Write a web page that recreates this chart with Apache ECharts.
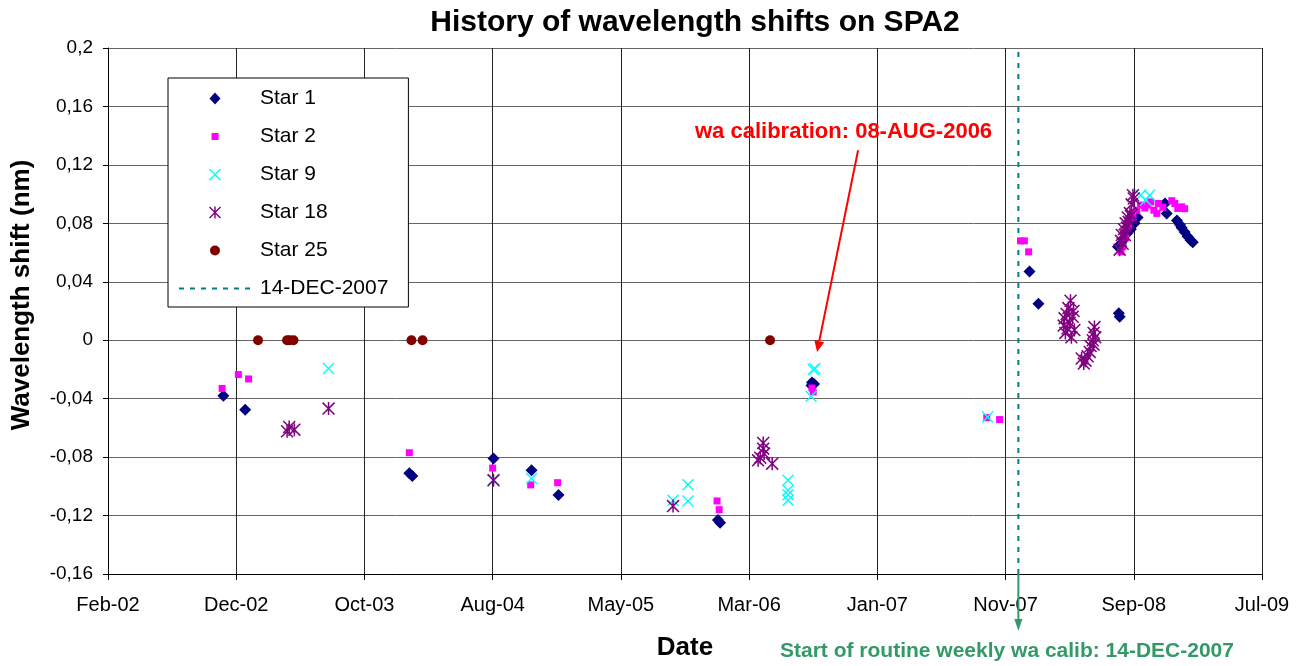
<!DOCTYPE html>
<html>
<head>
<meta charset="utf-8">
<title>History of wavelength shifts on SPA2</title>
<script src="https://cdn.jsdelivr.net/npm/echarts@6/dist/echarts.min.js"></script>
<style>
  html, body { margin: 0; padding: 0; background: #fff; }
  #chart { width: 1305px; height: 666px; }
</style>
</head>
<body>
<div id="chart"></div>
<script>
// x axis counts days from 13-Feb-2002, ticks every 300 days like the Excel date axis
var BASE = Date.UTC(2002, 1, 13);
var DAY = 86400000;
var MONTHS = ['Jan', 'Feb', 'Mar', 'Apr', 'May', 'Jun', 'Jul', 'Aug', 'Sep', 'Oct', 'Nov', 'Dec'];
var FONT = '"Liberation Sans", Arial, sans-serif';

var xMax = 2700;
var xStep = 300;
var yTicks = [-0.16, -0.12, -0.08, -0.04, 0, 0.04, 0.08, 0.12, 0.16, 0.2];

var calibDate = '2007-12-14';

var star1Dates = ['2002-11-10', '2002-12-31', '2004-01-19', '2004-01-26', '2004-08-03', '2004-10-31', '2005-01-02',
  '2006-01-10', '2006-01-15', '2006-08-17', '2006-08-18', '2006-08-23', '2008-01-09', '2008-01-30', '2008-08-05', '2008-08-07',
  '2008-08-03', '2008-08-10', '2008-08-17', '2008-08-24', '2008-09-02', '2008-09-11', '2008-09-18', '2008-11-21', '2008-11-25',
  '2008-12-19', '2008-12-26', '2008-12-30', '2009-01-06', '2009-01-13', '2009-01-20', '2009-01-25'];
var star1Shift = [-0.038, -0.0475, -0.091, -0.093, -0.081, -0.089, -0.106,
  -0.123, -0.125, -0.031, -0.029, -0.030, 0.047, 0.025, 0.0185, 0.016,
  0.064, 0.066, 0.069, 0.073, 0.076, 0.080, 0.084, 0.0936, 0.0868,
  0.082, 0.079, 0.077, 0.074, 0.071, 0.0685, 0.067];

var star2Dates = ['2002-11-07', '2002-12-15', '2003-01-08', '2004-01-19', '2004-08-01', '2004-10-29', '2004-12-31',
  '2006-01-08', '2006-01-13', '2006-08-18', '2006-08-21', '2007-10-01', '2007-10-31', '2007-12-19', '2007-12-28', '2008-01-07',
  '2008-08-10', '2008-08-14', '2008-08-21', '2008-08-28', '2008-09-07', '2008-09-16', '2008-09-25', '2008-10-05', '2008-10-12',
  '2008-10-19', '2008-10-26', '2008-11-02', '2008-11-06', '2008-11-16', '2008-12-07', '2008-12-14', '2008-12-21', '2008-12-30', '2009-01-06'];
var star2Shift = [-0.033, -0.0235, -0.0265, -0.077, -0.0875, -0.099, -0.0975,
  -0.110, -0.116, -0.0327, -0.0354, -0.053, -0.0543, 0.068, 0.068, 0.0605,
  0.0605, 0.064, 0.070, 0.078, 0.084, 0.089, 0.0925, 0.0905, 0.0925,
  0.0947, 0.089, 0.0868, 0.0936, 0.091, 0.0955, 0.0936, 0.0902, 0.0913, 0.090];

var star9Dates = ['2003-07-14', '2004-08-03', '2004-10-31', '2005-09-27', '2005-11-01', '2005-11-01',
  '2006-06-23', '2006-06-23', '2006-06-23', '2006-06-23', '2006-08-16', '2006-08-21', '2006-08-25',
  '2007-10-03', '2008-09-25', '2008-10-07', '2008-10-16'];
var star9Shift = [-0.0194, -0.0954, -0.0947, -0.1096, -0.0989, -0.110,
  -0.0959, -0.1027, -0.1057, -0.1096, -0.0384, -0.0201, -0.0195,
  -0.0525, 0.0993, 0.0959, 0.0993];

var star18Dates = ['2003-04-08', '2003-04-13', '2003-04-25', '2003-07-14', '2004-08-03', '2005-09-27',
  '2006-04-14', '2006-04-19', '2006-04-26', '2006-04-26', '2006-04-28', '2006-05-17',
  '2008-03-29', '2008-03-31', '2008-04-02', '2008-04-05', '2008-04-07', '2008-04-09',
  '2008-04-12', '2008-04-14', '2008-04-16', '2008-04-19', '2008-04-21', '2008-04-23',
  '2008-05-10', '2008-05-15', '2008-05-19', '2008-05-24', '2008-05-29', '2008-05-31',
  '2008-06-05', '2008-06-07', '2008-06-07', '2008-06-09', '2008-06-11',
  '2008-08-07', '2008-08-10', '2008-08-12', '2008-08-14', '2008-08-17', '2008-08-19', '2008-08-21',
  '2008-08-24', '2008-08-26', '2008-08-28', '2008-08-31', '2008-09-02', '2008-09-04', '2008-09-07', '2008-09-09'];
var star18Shift = [-0.0623, -0.0594, -0.0612, -0.0468, -0.0959, -0.1135,
  -0.0822, -0.0804, -0.0703, -0.0742, -0.0776, -0.0845,
  0.010, 0.015, 0.005, 0.018, 0.008, 0.022,
  0.012, 0.027, 0.002, 0.016, 0.020, 0.007,
  -0.0125, -0.016, -0.014, -0.011, -0.008, -0.004,
  0.000, -0.003, 0.005, 0.009, 0.002,
  0.062, 0.068, 0.072, 0.066, 0.076, 0.072, 0.080,
  0.077, 0.084, 0.081, 0.087, 0.085, 0.093, 0.0993, 0.097];

var star25Dates = ['2003-01-30', '2003-04-08', '2003-04-14', '2003-04-23', '2004-01-24', '2004-02-19', '2006-05-12'];
var star25Shift = [0, 0, 0, 0, 0, 0, 0];

function toDay(s) {
  return (Date.parse(s) - BASE) / DAY;
}
function pairs(dates, values) {
  return dates.map(function (d, i) { return [toDay(d), values[i]]; });
}
function dateLabel(v) {
  var d = new Date(BASE + v * DAY);
  return MONTHS[d.getUTCMonth()] + '-' + String(d.getUTCFullYear()).slice(2);
}
function commaLabel(v) {
  return String(Math.round(v * 100) / 100).replace('.', ',');
}

// thin filled X and asterisk, so they work as legend icons too
var X_PATH = 'path://M0,1L1,0L12,11L11,12Z M11,0L12,1L1,12L0,11Z';
var ASTER_PATH = 'path://M0,1L1,0L12,11L11,12Z M11,0L12,1L1,12L0,11Z M5.3,0H6.7V12H5.3Z';
// legend icons: tiny corner specks fix the box so the mark keeps its own size
var SPECKS = 'M0,0h0.01v0.01h-0.01Z M11.99,11.99h0.01v0.01h-0.01Z ';
var ICON_DIAMOND = 'path://M6,0L11.5,6L6,12L0.5,6Z';
var ICON_SQUARE = 'path://' + SPECKS + 'M2.5,2.5h7v7h-7Z';
var ICON_CIRCLE = 'path://' + SPECKS + 'M1,6A5,5 0 1,0 11,6A5,5 0 1,0 1,6Z';
var ICON_DASH = 'path://M0,0h0.01v0.01h-0.01Z M71.99,11.99h0.01v0.01h-0.01Z ' +
  'M0,5h5v2h-5Z M11,5h5v2h-5Z M22,5h5v2h-5Z M33,5h5v2h-5Z M44,5h5v2h-5Z M55,5h5v2h-5Z M66,5h5v2h-5Z';

function starSeries(name, dates, values, symbol, size, color) {
  return {
    name: name,
    type: 'scatter',
    data: pairs(dates, values),
    symbol: symbol,
    symbolSize: size,
    itemStyle: { color: color, opacity: 1 },
    emphasis: { disabled: true },
    z: 3
  };
}

var calibDay = toDay(calibDate);

var chart = echarts.init(document.getElementById('chart'));

var option = {
  animation: false,
  backgroundColor: '#fff',
  title: {
    text: 'History of wavelength shifts on SPA2',
    left: 690,
    top: 3,
    textAlign: 'center',
    textStyle: { fontFamily: FONT, fontSize: 30, fontWeight: 'bold', color: '#000' }
  },
  legend: {
    orient: 'vertical',
    left: 168,
    top: 78,
    padding: [10, 20, 8, 11],
    itemGap: 17,
    itemWidth: 72,
    itemHeight: 12,
    symbolKeepAspect: true,
    selectedMode: false,
    backgroundColor: '#fff',
    borderColor: '#000',
    borderWidth: 1,
    borderRadius: 0,
    textStyle: { fontFamily: FONT, fontSize: 21, color: '#000', padding: [0, 0, 0, 4] },
    data: [
      { name: 'Star 1', icon: ICON_DIAMOND },
      { name: 'Star 2', icon: ICON_SQUARE },
      { name: 'Star 9', icon: X_PATH },
      { name: 'Star 18', icon: ASTER_PATH },
      { name: 'Star 25', icon: ICON_CIRCLE },
      { name: '14-DEC-2007', icon: ICON_DASH }
    ]
  },
  grid: { left: 108, right: 43, top: 48, bottom: 92, outerBoundsMode: 'none' },
  xAxis: {
    type: 'value',
    min: 0,
    max: xMax,
    interval: xStep,
    name: 'Date',
    nameLocation: 'middle',
    nameGap: 61,
    nameTextStyle: { fontFamily: FONT, fontSize: 26, fontWeight: 'bold', color: '#000' },
    axisLine: { show: true, onZero: false, lineStyle: { color: '#000', width: 1 } },
    axisTick: { show: true, length: 6, lineStyle: { color: '#000' } },
    axisLabel: { margin: 21, fontFamily: FONT, fontSize: 20, color: '#000', formatter: dateLabel },
    splitLine: { show: true, lineStyle: { color: '#222', width: 1 } }
  },
  yAxis: {
    type: 'value',
    min: yTicks[0],
    max: yTicks[yTicks.length - 1],
    interval: 0.04,
    axisLine: { show: true, onZero: false, lineStyle: { color: '#000', width: 1 } },
    axisTick: { show: true, length: 5, lineStyle: { color: '#000' } },
    axisLabel: { margin: 15, fontFamily: FONT, fontSize: 19, color: '#000', formatter: commaLabel },
    splitLine: { show: true, lineStyle: { color: '#666', width: 1 } }
  },
  series: [
    {
      name: '14-DEC-2007',
      type: 'line',
      data: [[calibDay, yTicks[0]], [calibDay, yTicks[yTicks.length - 1]]],
      symbol: 'none',
      itemStyle: { color: '#008080' },
      lineStyle: { color: '#008080', width: 2, type: [5, 6] },
      emphasis: { disabled: true },
      z: 2
    },
    starSeries('Star 1', star1Dates, star1Shift, 'diamond', [12, 12], '#000080'),
    starSeries('Star 2', star2Dates, star2Shift, 'rect', 7, '#FF00FF'),
    starSeries('Star 9', star9Dates, star9Shift, X_PATH, 12, '#00FFFF'),
    starSeries('Star 18', star18Dates, star18Shift, ASTER_PATH, 13, '#800080'),
    starSeries('Star 25', star25Dates, star25Shift, 'circle', 10, '#800000')
  ]
};

chart.setOption(option);

function px(day, v) {
  return chart.convertToPixel({ gridIndex: 0 }, [day, v]);
}

function arrow(from, to, color, width, headLen, headHalf) {
  var dx = to[0] - from[0], dy = to[1] - from[1];
  var len = Math.sqrt(dx * dx + dy * dy);
  var ux = dx / len, uy = dy / len;
  var bx = to[0] - ux * headLen, by = to[1] - uy * headLen;
  return [
    { type: 'line', z: 10, shape: { x1: from[0], y1: from[1], x2: bx, y2: by }, style: { stroke: color, lineWidth: width } },
    { type: 'polygon', z: 10, shape: { points: [to, [bx - uy * headHalf, by + ux * headHalf], [bx + uy * headHalf, by - ux * headHalf]] }, style: { fill: color } }
  ];
}

var redFrom = px(toDay('2006-12-04'), 0.130);
var redTo = px(toDay('2006-08-30'), -0.008);
var greenFrom = px(calibDay, yTicks[0]);
var greenTo = [greenFrom[0], 631];

var graphics = [].concat(
  arrow(redFrom, redTo, '#FF0000', 2, 11, 5),
  arrow(greenFrom, greenTo, '#339966', 2, 12, 4),
  [
    {
      type: 'text', z: 10, x: 695, y: 132,
      style: { text: 'wa calibration: 08-AUG-2006', fill: '#FF0000', font: 'bold 22px ' + FONT, align: 'left', verticalAlign: 'middle' }
    },
    {
      type: 'text', z: 10, x: 780, y: 651,
      style: { text: 'Start of routine weekly wa calib: 14-DEC-2007', fill: '#339966', font: 'bold 21px ' + FONT, align: 'left', verticalAlign: 'middle' }
    },
    {
      type: 'text', z: 10, x: 22, y: 295, rotation: Math.PI / 2,
      style: { text: 'Wavelength shift (nm)', fill: '#000', font: 'bold 26px ' + FONT, align: 'center', verticalAlign: 'middle' }
    }
  ]
);

chart.setOption({ graphic: graphics });
</script>
</body>
</html>
